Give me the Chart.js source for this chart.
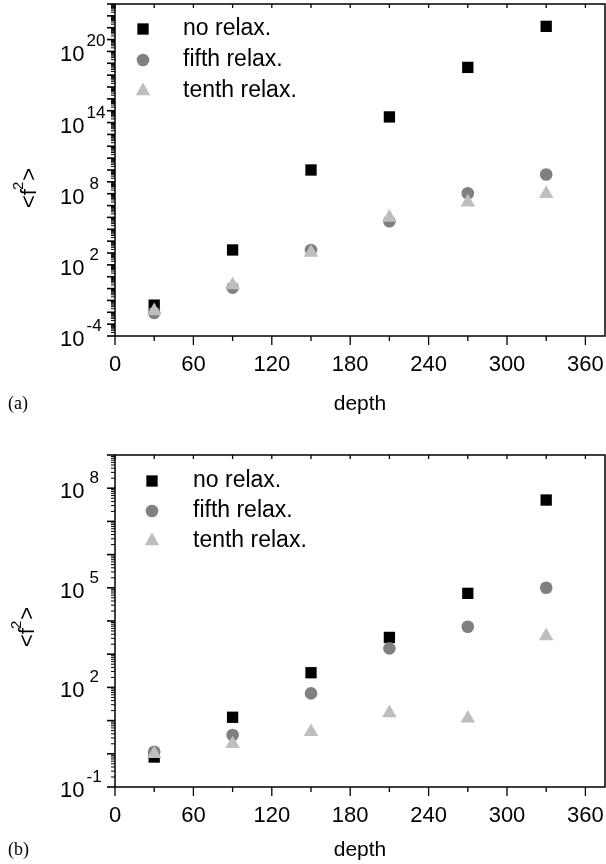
<!DOCTYPE html>
<html>
<head>
<meta charset="utf-8">
<script src="https://cdn.jsdelivr.net/npm/chart.js@4.4.1/dist/chart.umd.min.js"></script>
<style>
  body { margin: 0; background: #fff; }
  .panel { position: relative; width: 606px; height: 432px; }
</style>
</head>
<body>
<div class="panel"><canvas id="chartA" width="606" height="432"></canvas></div>
<div class="panel"><canvas id="chartB" width="606" height="432"></canvas></div>
<script>
// data
const depth = [30, 90, 150, 210, 270, 330]
const seriesNames = ['no relax.', 'fifth relax.', 'tenth relax.']

// panel (a)
const noRelaxA = [4e-2, 1.8e3, 1e10, 3e14, 4.5e18, 1.3e22]
const fifthRelaxA = [9e-3, 1.2, 1.8e3, 4.7e5, 1.1e8, 4.2e9]
const tenthRelaxA = [1.3e-2, 2, 1.1e3, 1e6, 1.9e7, 1e8]

// panel (b)
const noRelaxB = [0.8, 12.6, 277, 3.2e3, 6.8e4, 4.4e7]
const fifthRelaxB = [1.15, 3.7, 66, 1.5e3, 6.7e3, 1e5]
const tenthRelaxB = [1.0, 2.0, 4.6, 17, 11.7, 3.5e3]

const xTicks = [0, 30, 60, 90, 120, 150, 180, 210, 240, 270, 300, 330, 360]
const yExpA = [-4, 2, 8, 14, 20]
const yExpB = [-1, 2, 5, 8]

const colors = ['#000000', '#808080', '#bebebe']
const styles = ['rect', 'circle', 'triangle']
const radii = [8, 6.3, 8.4]
const FONT = '"Liberation Sans", Arial, sans-serif'

function makeDatasets(a, b, c) {
  return [a, b, c].map((vals, i) => ({
    label: seriesNames[i],
    data: depth.map((d, k) => ({ x: d, y: vals[k] })),
    pointStyle: styles[i],
    radius: radii[i],
    backgroundColor: colors[i],
    borderWidth: 0,
    order: 3 - i
  }))
}

function logTicks(minExp, maxExp) {
  const out = []
  for (let e = minExp; e < maxExp; e++) {
    for (let m = 1; m < 10; m++) out.push({ value: m * Math.pow(10, e) })
  }
  out.push({ value: Math.pow(10, maxExp) })
  return out
}

function line(c, x1, y1, x2, y2) {
  c.beginPath(); c.moveTo(x1, y1); c.lineTo(x2, y2); c.stroke()
}

function panelPlugin(cfg) {
  return {
    id: 'panel',
    afterDraw(chart) {
      const c = chart.ctx, a = chart.chartArea
      const xs = chart.scales.x, ys = chart.scales.y
      c.save()
      c.strokeStyle = '#000'
      c.fillStyle = '#000'

      // frame
      c.lineWidth = 1.5
      c.strokeRect(a.left, a.top, a.right - a.left, a.bottom - a.top)

      // x tick marks
      c.lineWidth = 1.3
      xs.ticks.forEach(t => {
        const px = xs.getPixelForValue(t.value)
        line(c, px, a.bottom, px, a.bottom + (t.value % 60 === 0 ? 9 : 5))
        line(c, px, a.top, px, a.top + 4)
      })

      // y tick marks (log)
      ys.ticks.forEach(t => {
        const py = ys.getPixelForValue(t.value)
        const l = Math.log10(t.value)
        const major = Math.abs(l - Math.round(l)) < 1e-9
        c.lineWidth = major ? 1.6 : 1
        line(c, a.left - (major ? 8 : 4), py, a.left, py)
      })

      // y tick labels 10^n
      cfg.exps.forEach(e => {
        const py = ys.getPixelForValue(Math.pow(10, e))
        c.textAlign = 'left'
        c.textBaseline = 'middle'
        c.font = '22px ' + FONT
        c.fillText('10', 60, py + 4)
        const w = c.measureText('10').width
        c.font = '17px ' + FONT
        c.textBaseline = 'alphabetic'
        c.fillText(String(e), 60 + w + (e >= 0 && e < 10 ? 5 : 2), py - 5)
      })

      // y title <f^2>
      c.save()
      c.translate(cfg.yTitle[0], cfg.yTitle[1])
      c.rotate(-Math.PI / 2)
      c.textBaseline = 'middle'
      c.textAlign = 'left'
      c.font = '22px ' + FONT
      const w1 = c.measureText('<f').width
      c.font = '15px ' + FONT
      const w2 = c.measureText('2').width
      c.font = '22px ' + FONT
      const w3 = c.measureText('>').width
      const x0 = -(w1 + w2 + w3) / 2
      c.fillText('<f', x0, 0)
      c.font = '15px ' + FONT
      c.fillText('2', x0 + w1 - 1, -11)
      c.font = '22px ' + FONT
      c.fillText('>', x0 + w1 + w2, 0)
      c.restore()

      // x title and panel tag
      c.textAlign = 'center'
      c.textBaseline = 'middle'
      c.font = '21px ' + FONT
      c.fillText('depth', (a.left + a.right) / 2, cfg.xTitleY)
      c.textAlign = 'left'
      c.font = '18px "Liberation Serif", "Times New Roman", serif'
      c.fillText(cfg.tag, 8, cfg.xTitleY)

      // legend
      chart.data.datasets.forEach((ds, i) => {
        const y = cfg.legend[1] + i * cfg.legend[3]
        c.fillStyle = ds.backgroundColor
        Chart.helpers.drawPoint(c, { pointStyle: ds.pointStyle, radius: ds.radius, rotation: 0, borderWidth: 0 }, cfg.legend[0], y)
        c.fillStyle = '#000'
        c.font = '23px ' + FONT
        c.textAlign = 'left'
        c.textBaseline = 'middle'
        c.fillText(ds.label, cfg.legend[2], y)
      })
      c.restore()
    }
  }
}

function makeChart(id, datasets, cfg) {
  return new Chart(document.getElementById(id), {
    type: 'scatter',
    data: { datasets: datasets },
    options: {
      responsive: false,
      animation: false,
      devicePixelRatio: 1,
      layout: { autoPadding: false, padding: { top: cfg.padTop, right: 1, left: 0, bottom: 0 } },
      scales: {
        x: {
          type: 'linear',
          min: 0,
          max: 375,
          afterBuildTicks: s => { s.ticks = xTicks.map(v => ({ value: v })) },
          afterFit: s => { s.height = cfg.xHeight; s.paddingLeft = 0; s.paddingRight = 0 },
          grid: { display: false, drawTicks: false },
          border: { display: false },
          ticks: {
            autoSkip: false,
            maxRotation: 0,
            padding: 16,
            color: '#000',
            font: { family: FONT, size: 22 },
            callback: v => (v % 60 === 0 ? String(v) : '')
          }
        },
        y: {
          type: 'logarithmic',
          min: Math.pow(10, cfg.yMin),
          max: Math.pow(10, cfg.yMax),
          afterBuildTicks: s => { s.ticks = logTicks(cfg.yMin, cfg.yMax) },
          afterFit: s => { s.width = 115; s.paddingTop = 0; s.paddingBottom = 0 },
          grid: { display: false, drawTicks: false },
          border: { display: false },
          ticks: { display: false }
        }
      },
      plugins: {
        legend: { display: false },
        tooltip: { enabled: false }
      }
    },
    plugins: [panelPlugin(cfg)]
  })
}

makeChart('chartA', makeDatasets(noRelaxA, fifthRelaxA, tenthRelaxA), {
  padTop: 4, xHeight: 96, yMin: -4, yMax: 24, exps: yExpA,
  yTitle: [30, 188], xTitleY: 404, tag: '(a)', legend: [143, 29, 183, 31]
})

makeChart('chartB', makeDatasets(noRelaxB, fifthRelaxB, tenthRelaxB), {
  padTop: 23, xHeight: 77, yMin: -1, yMax: 9, exps: yExpB,
  yTitle: [28, 195], xTitleY: 418, tag: '(b)', legend: [152, 49, 193, 30]
})
</script>
</body>
</html>
